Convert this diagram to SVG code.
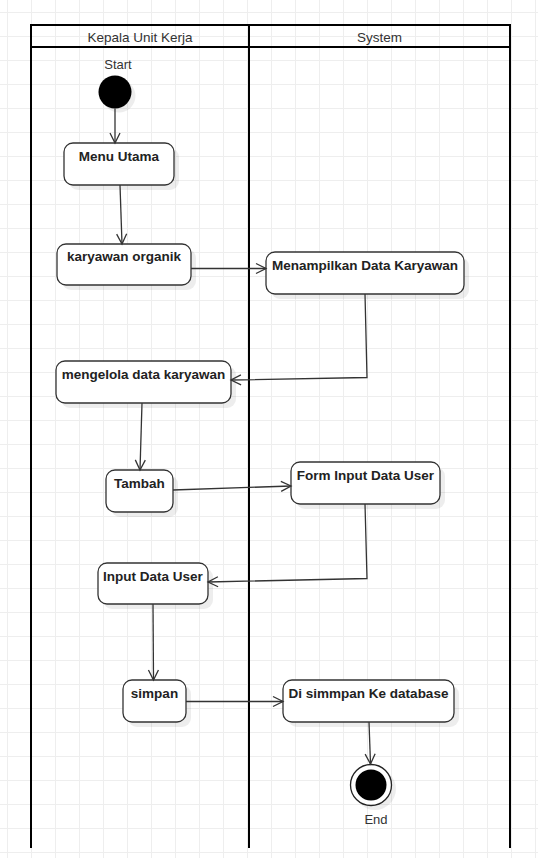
<svg xmlns="http://www.w3.org/2000/svg" width="538" height="858" viewBox="0 0 538 858">
<style>
.lane{stroke:#000;stroke-width:2;fill:none}
.hdr{font-family:"Liberation Sans",Arial,sans-serif;font-size:13.5px;fill:#333;text-anchor:middle}
.lbl{font-family:"Liberation Sans",Arial,sans-serif;font-size:13px;fill:#333;text-anchor:middle}
.box{fill:#fff;stroke:#333;stroke-width:1.3}
.shd{fill:#000;fill-opacity:0.07}
.txt{font-family:"Liberation Sans",Arial,sans-serif;font-size:13.5px;font-weight:bold;fill:#222;text-anchor:middle}
.con{fill:none;stroke:#333;stroke-width:1.3;marker-end:url(#arr)}
</style>
<defs>
<pattern id="grid" patternUnits="userSpaceOnUse" x="7" y="12" width="24" height="24">
<rect x="0" y="0" width="1" height="24" fill="#eeeeee"/>
<rect x="0" y="0" width="24" height="1" fill="#eeeeee"/>
</pattern>
<marker id="arr" markerWidth="12" markerHeight="12" refX="10" refY="5" orient="auto" markerUnits="userSpaceOnUse" overflow="visible">
<path d="M0,0 L10,5 L0,10" fill="none" stroke="#333" stroke-width="1.3"/>
</marker>
</defs>
<rect width="538" height="858" fill="#fff"/>
<rect width="538" height="858" fill="url(#grid)"/>

<g id="swimlanes">
<path class="lane" d="M31,848 V25 H510 V848 M249,25 V848 M31,47 H510"/>
<text class="hdr" x="140" y="42">Kepala Unit Kerja</text>
<text class="hdr" x="379.5" y="42">System</text>
</g>

<g id="start">
<circle cx="119" cy="96" r="16.5" fill="#000" fill-opacity="0.07"/>
<circle cx="115" cy="92" r="16.5" fill="#000"/>
<text class="lbl" x="118" y="69">Start</text>
</g>

<g id="menu-utama">
<rect class="shd" x="69" y="148" width="110" height="42" rx="9"/>
<rect class="box" x="64" y="143" width="110" height="42" rx="9"/>
<text class="txt" x="119" y="161">Menu Utama</text>
</g>

<g id="karyawan-organik">
<rect class="shd" x="62" y="249" width="134" height="41" rx="9"/>
<rect class="box" x="57" y="244" width="134" height="41" rx="9"/>
<text class="txt" x="124" y="261">karyawan organik</text>
</g>

<g id="menampilkan">
<rect class="shd" x="271" y="257" width="198" height="42" rx="9"/>
<rect class="box" x="266" y="252" width="198" height="42" rx="9"/>
<text class="txt" x="365" y="270">Menampilkan Data Karyawan</text>
</g>

<g id="mengelola">
<rect class="shd" x="61" y="366" width="175" height="42" rx="9"/>
<rect class="box" x="56" y="361" width="175" height="42" rx="9"/>
<text class="txt" x="143.5" y="379">mengelola data karyawan</text>
</g>

<g id="tambah">
<rect class="shd" x="111" y="475" width="67" height="42" rx="9"/>
<rect class="box" x="106" y="470" width="67" height="42" rx="9"/>
<text class="txt" x="139.5" y="488">Tambah</text>
</g>

<g id="form-input">
<rect class="shd" x="296" y="467" width="149" height="42" rx="9"/>
<rect class="box" x="291" y="462" width="149" height="42" rx="9"/>
<text class="txt" x="365.5" y="480">Form Input Data User</text>
</g>

<g id="input-data-user">
<rect class="shd" x="103" y="568" width="110" height="41" rx="9"/>
<rect class="box" x="98" y="563" width="110" height="41" rx="9"/>
<text class="txt" x="153" y="581">Input Data User</text>
</g>

<g id="simpan">
<rect class="shd" x="128" y="685" width="63" height="42" rx="9"/>
<rect class="box" x="123" y="680" width="63" height="42" rx="9"/>
<text class="txt" x="154.5" y="698">simpan</text>
</g>

<g id="di-simpan">
<rect class="shd" x="288" y="685" width="171" height="42" rx="9"/>
<rect class="box" x="283" y="680" width="171" height="42" rx="9"/>
<text class="txt" x="368.5" y="698">Di simmpan Ke database</text>
</g>

<g id="end">
<circle cx="375" cy="789" r="21" fill="#000" fill-opacity="0.07"/>
<circle cx="371" cy="785" r="20.5" fill="#fff" stroke="#222" stroke-width="1.3"/>
<circle cx="371" cy="785" r="15.5" fill="#000"/>
<text class="lbl" x="376" y="824">End</text>
</g>

<g id="connectors">
<path class="con" d="M115,108.5 L115,143"/>
<path class="con" d="M120,185 L122,244"/>
<path class="con" d="M191,268.5 L266,268.5"/>
<path class="con" d="M365,294 L367,377.5 L231,380"/>
<path class="con" d="M142,403 L140,470"/>
<path class="con" d="M173,490 L291,486"/>
<path class="con" d="M365,504 L367,578.5 L208,582"/>
<path class="con" d="M153,604 L153.5,680"/>
<path class="con" d="M186,701.5 L283,701.5"/>
<path class="con" d="M369,722 L370.5,764"/>
</g>
</svg>
